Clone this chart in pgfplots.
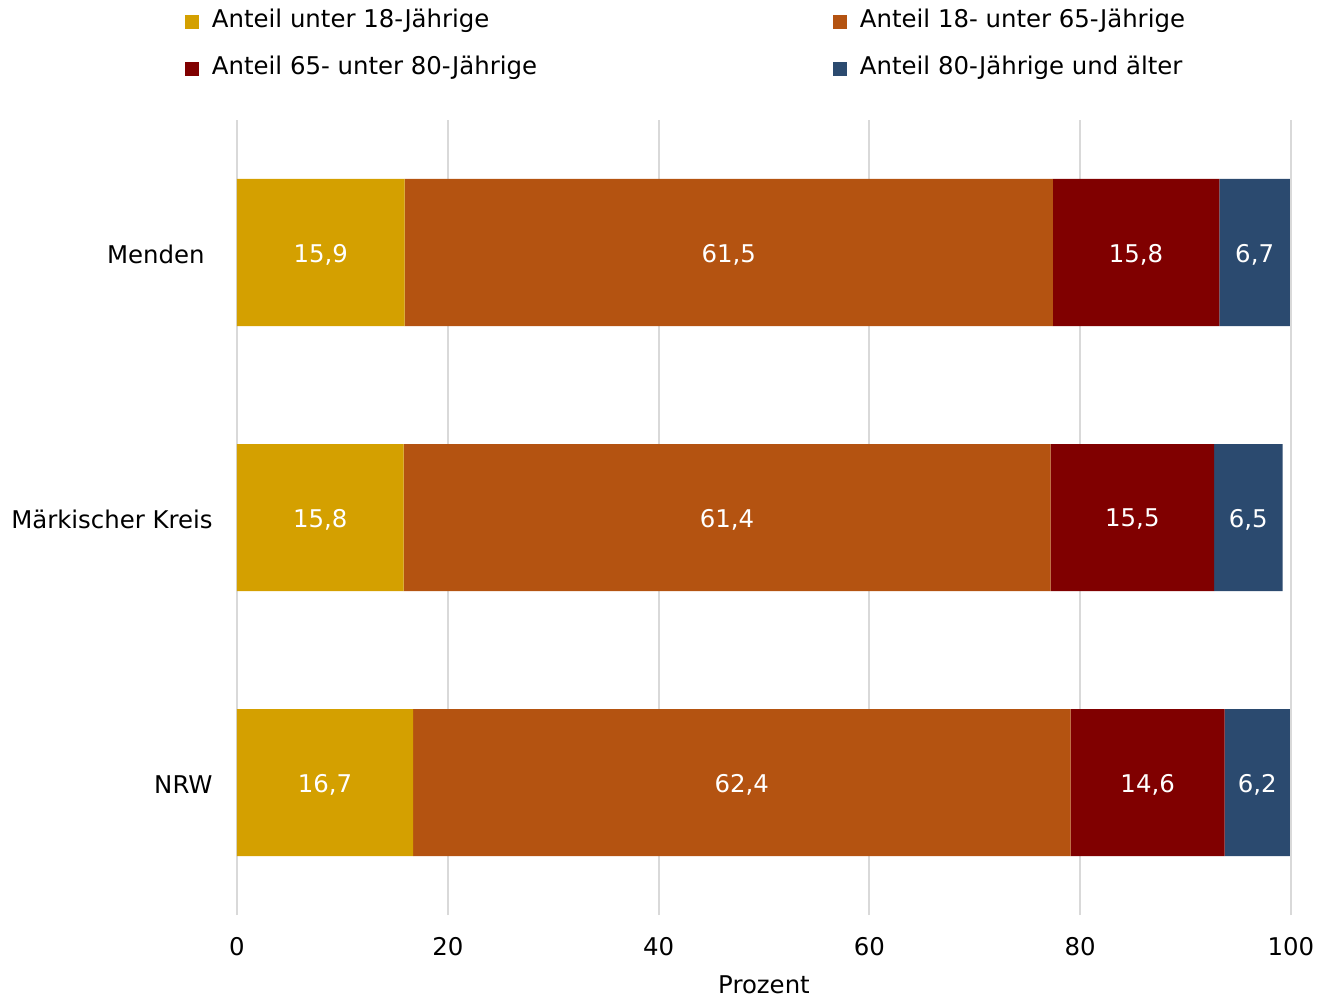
\documentclass[border=0pt]{standalone}
\usepackage{pgfplots}
\pgfplotsset{compat=1.18}
\usepackage{pgfplotstable}
\usepackage{fontspec}
\setmainfont{DejaVu Sans}
\definecolor{cYel}{HTML}{D4A000}
\definecolor{cOra}{HTML}{B45311}
\definecolor{cRed}{HTML}{800000}
\definecolor{cBlu}{HTML}{2B4A6F}
\definecolor{cGrid}{HTML}{D9D9D9}
\pgfplotstableread{
pos a b c d
0 16.7 62.4 14.6 6.2
1 15.8 61.4 15.5 6.5
2 15.9 61.5 15.8 6.7
}\datatable
\pgfplotsset{
  sq/.style={legend image code/.code={\fill[##1] (0pt,-3.5pt) rectangle (7pt,3.5pt);}},
}
\begin{document}
\begin{tikzpicture}[font=\fontsize{12.2}{14.4}\selectfont]
\path[use as bounding box] (-118.5pt,-41.5pt) rectangle (541pt,457.5pt);
\begin{axis}[
  at={(0,0)}, anchor=south west,
  scale only axis, width=527pt, height=397.5pt,
  xbar stacked, bar width=73.5pt,
  xmin=0, xmax=100, ymin=-0.5, ymax=2.5,
  xtick={0,20,...,100},
  ytick={0,1,2},
  yticklabels={NRW, Märkischer Kreis, {Menden\kern4pt}},
  axis line style={draw=none},
  major tick length=0pt,
  xmajorgrids, grid style={draw=cGrid, line width=1pt},
  /pgf/number format/assume math mode=true,
  xticklabel style={anchor=center, yshift=-16pt, inner sep=0pt},
  yticklabel style={anchor=east, inner sep=0pt, xshift=-12pt, yshift=-1pt},
  xlabel={Prozent},
  xlabel style={at={(axis description cs:0.5,0)}, anchor=center, yshift=-35pt, inner sep=0pt},
  point meta=explicit,
  nodes near coords={\pgfmathprintnumber[use comma,fixed,precision=1,fixed zerofill]{\pgfplotspointmeta}},
  every node near coord/.append style={anchor=center, text=white, yshift=-1pt},
  legend columns=2,
  legend cell align=left,
  legend style={draw=none, fill=none, inner sep=0pt, outer sep=0pt,
    at={(axis description cs:-0.04934,1.1384)}, anchor=north west,
    nodes={inner sep=0pt, text height=9pt, text depth=3pt},
    row sep=11.5pt,
    /tikz/every odd column/.append style={column sep=6.5pt},
    /tikz/every even column/.append style={column sep=0pt}},
]
\addplot[fill=cYel, draw=none, sq] table[x=a, y=pos, meta=a] {\datatable};
\addlegendentry{\makebox[310.5pt][l]{Anteil unter 18-Jährige}}
\addplot[fill=cOra, draw=none, sq] table[x=b, y=pos, meta=b] {\datatable};
\addlegendentry{Anteil 18- unter 65-Jährige}
\addplot[fill=cRed, draw=none, sq] table[x=c, y=pos, meta=c] {\datatable};
\addlegendentry{\makebox[310.5pt][l]{Anteil 65- unter 80-Jährige}}
\addplot[fill=cBlu, draw=none, sq] table[x=d, y=pos, meta=d] {\datatable};
\addlegendentry{Anteil 80-Jährige und älter}
\end{axis}
\end{tikzpicture}
\end{document}
